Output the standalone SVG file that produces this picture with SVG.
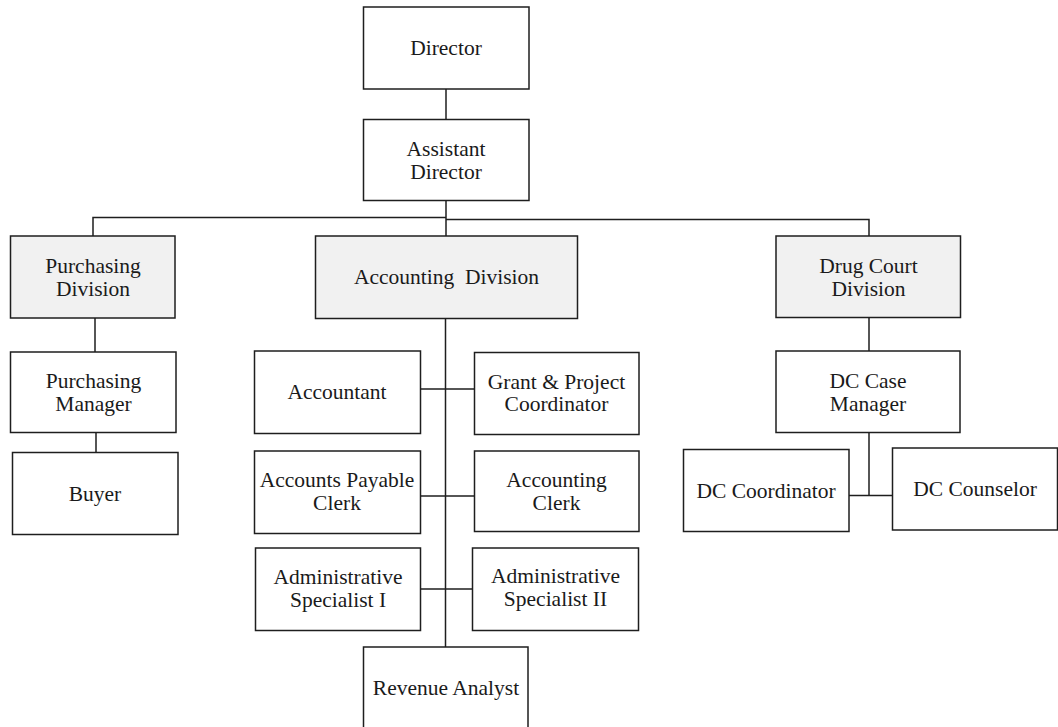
<svg xmlns="http://www.w3.org/2000/svg" width="1058" height="727" viewBox="0 0 1058 727">
  <style>
    .box { fill: #ffffff; stroke: #1e1e1e; stroke-width: 1.5; }
    .div { fill: #f1f1f1; stroke: #1e1e1e; stroke-width: 1.5; }
    .lbl { font-family: "Liberation Serif", "Times New Roman", serif; font-size: 21.5px; fill: #1a1a1a; text-anchor: middle; }
    .link { stroke: #1e1e1e; stroke-width: 1.5; fill: none; }
  </style>
  <rect width="1058" height="727" fill="#ffffff"/>

  <g id="connectors">
    <line class="link" x1="446" y1="89" x2="446" y2="120"/>
    <line class="link" x1="446" y1="200.5" x2="446" y2="236"/>
    <polyline class="link" points="93,236 93,217.5 446,217.5"/>
    <polyline class="link" points="446,219.5 869,219.5 869,236"/>
    <line class="link" x1="95" y1="318" x2="95" y2="352"/>
    <line class="link" x1="96" y1="432" x2="96" y2="452"/>
    <line class="link" x1="445.5" y1="318.5" x2="445.5" y2="647"/>
    <line class="link" x1="420" y1="389" x2="474" y2="389"/>
    <line class="link" x1="420" y1="496" x2="474" y2="496"/>
    <line class="link" x1="420" y1="589" x2="472" y2="589"/>
    <line class="link" x1="869" y1="317" x2="869" y2="351"/>
    <line class="link" x1="869" y1="432.5" x2="869" y2="495.5"/>
    <line class="link" x1="849" y1="495.5" x2="892" y2="495.5"/>
  </g>

  <g id="director">
    <rect class="box" x="363.5" y="7" width="165.5" height="82"/>
    <text class="lbl" x="446" y="55">Director</text>
  </g>
  <g id="assistant-director">
    <rect class="box" x="363.5" y="119.5" width="165.5" height="81"/>
    <text class="lbl" x="446" y="155.5">Assistant</text>
    <text class="lbl" x="446" y="178.5">Director</text>
  </g>

  <g id="purchasing-division">
    <rect class="div" x="10.5" y="236" width="164.5" height="82"/>
    <text class="lbl" x="93" y="272.5">Purchasing</text>
    <text class="lbl" x="93" y="295.5">Division</text>
  </g>
  <g id="purchasing-manager">
    <rect class="box" x="10.5" y="352" width="165.5" height="80.5"/>
    <text class="lbl" x="93.5" y="388">Purchasing</text>
    <text class="lbl" x="93.5" y="411">Manager</text>
  </g>
  <g id="buyer">
    <rect class="box" x="12.5" y="452.5" width="165.5" height="82"/>
    <text class="lbl" x="95" y="500.5">Buyer</text>
  </g>

  <g id="accounting-division">
    <rect class="div" x="315.5" y="236" width="262" height="82.5"/>
    <text class="lbl" x="446.5" y="284" xml:space="preserve">Accounting  Division</text>
  </g>
  <g id="accountant">
    <rect class="box" x="254.5" y="351" width="166" height="82.5"/>
    <text class="lbl" x="337" y="398.5">Accountant</text>
  </g>
  <g id="grant-project-coordinator">
    <rect class="box" x="474.5" y="352.5" width="164.5" height="82"/>
    <text class="lbl" x="556.5" y="388.5">Grant &amp; Project</text>
    <text class="lbl" x="556.5" y="411">Coordinator</text>
  </g>
  <g id="accounts-payable-clerk">
    <rect class="box" x="254.5" y="451" width="166" height="82.5"/>
    <text class="lbl" x="337" y="487">Accounts Payable</text>
    <text class="lbl" x="337" y="510">Clerk</text>
  </g>
  <g id="accounting-clerk">
    <rect class="box" x="474.5" y="451" width="164.5" height="80.5"/>
    <text class="lbl" x="556.5" y="487">Accounting</text>
    <text class="lbl" x="556.5" y="510">Clerk</text>
  </g>
  <g id="administrative-specialist-1">
    <rect class="box" x="255.5" y="548" width="165" height="82.5"/>
    <text class="lbl" x="338" y="583.5">Administrative</text>
    <text class="lbl" x="338" y="606.5">Specialist I</text>
  </g>
  <g id="administrative-specialist-2">
    <rect class="box" x="472.5" y="548" width="166" height="82.5"/>
    <text class="lbl" x="555.5" y="583">Administrative</text>
    <text class="lbl" x="555.5" y="606">Specialist II</text>
  </g>
  <g id="revenue-analyst">
    <rect class="box" x="363.5" y="647" width="164.5" height="82"/>
    <text class="lbl" x="446" y="695">Revenue Analyst</text>
  </g>

  <g id="drug-court-division">
    <rect class="div" x="776" y="236" width="184.5" height="81.5"/>
    <text class="lbl" x="868.5" y="272.5">Drug Court</text>
    <text class="lbl" x="868.5" y="295.5">Division</text>
  </g>
  <g id="dc-case-manager">
    <rect class="box" x="776" y="351" width="184" height="81.5"/>
    <text class="lbl" x="868" y="387.5">DC Case</text>
    <text class="lbl" x="868" y="410.5">Manager</text>
  </g>
  <g id="dc-coordinator">
    <rect class="box" x="683.5" y="449.5" width="165.5" height="82"/>
    <text class="lbl" x="766" y="497.5">DC Coordinator</text>
  </g>
  <g id="dc-counselor">
    <rect class="box" x="892.5" y="448" width="165" height="82"/>
    <text class="lbl" x="975" y="496">DC Counselor</text>
  </g>
</svg>
